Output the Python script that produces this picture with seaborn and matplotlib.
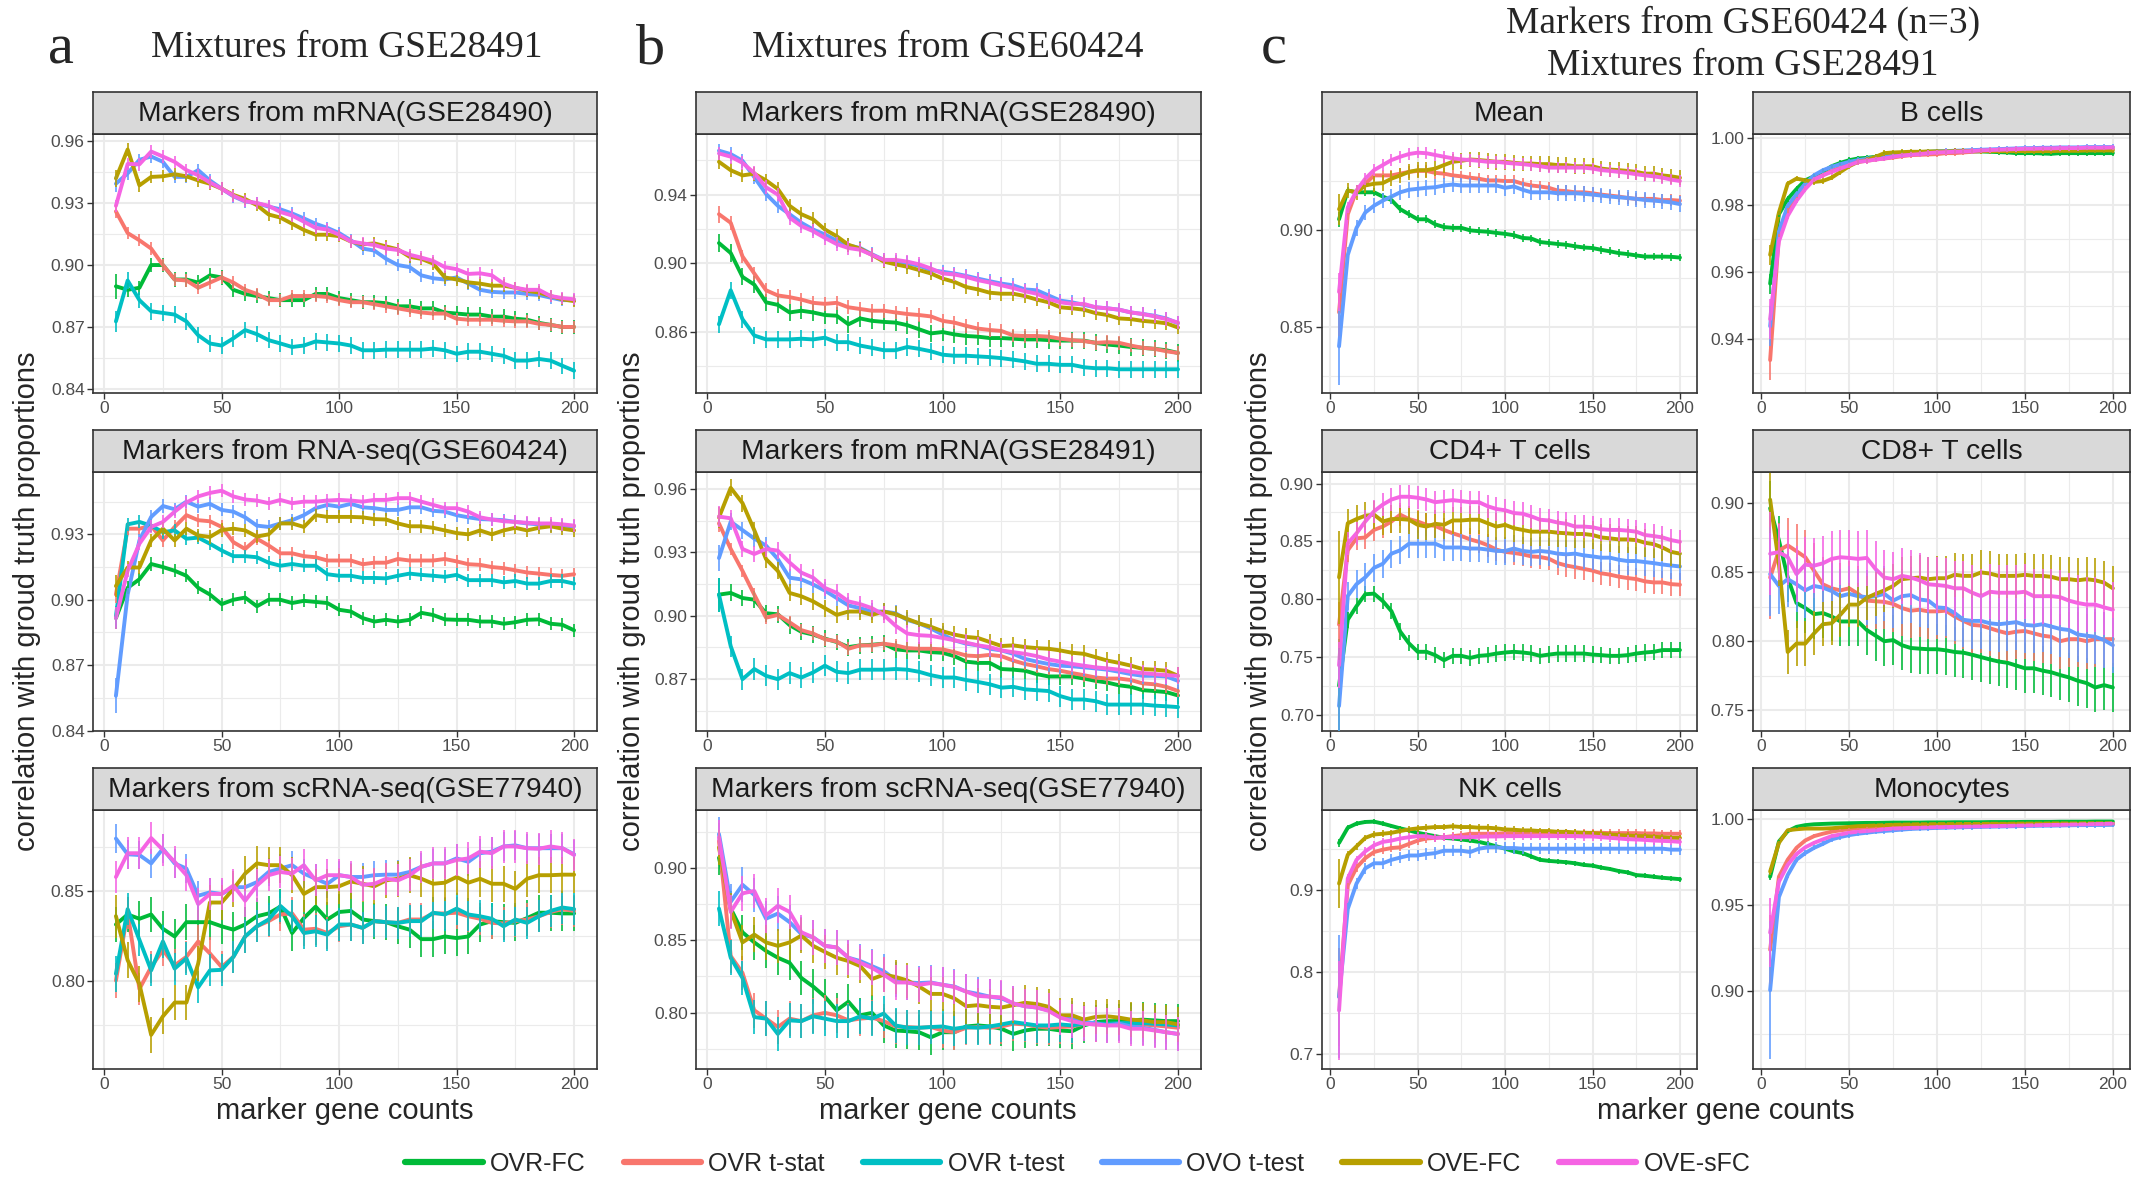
import numpy as np
import pandas as pd
import matplotlib
matplotlib.use("Agg")
import matplotlib.pyplot as plt
from matplotlib.lines import Line2D
import seaborn as sns

sns.set_theme(style="white")
plt.rcParams["font.family"] = ["Liberation Sans", "DejaVu Sans"]

# ---------------- data ----------------
MARKERS = list(range(5, 205, 5))
METHODS = ["OVR-FC", "OVR t-stat", "OVR t-test", "OVO t-test", "OVE-FC", "OVE-sFC"]
COLORS = ["#00BA38", "#F8766D", "#00BFC4", "#619CFF", "#B79F00", "#F564E3"]

# a: Mixtures from GSE28491 / Markers from mRNA(GSE28490)
a1_ovr_fc = [.8897,.888,.889,.9,.9,.893,.893,.8915,.895,.894,.888,.886,.885,.884,.883,.883,.883,.886,.886,.884,.883,.882,.882,.8815,.880,.880,.879,.879,.877,.8765,.876,.876,.875,.875,.874,.8735,.872,.871,.870,.870]
a1_ovr_tstat = [.926,.9155,.912,.908,.9,.893,.8925,.889,.8915,.894,.8915,.888,.886,.883,.883,.885,.885,.885,.8845,.883,.882,.882,.881,.880,.879,.878,.877,.8765,.8765,.874,.8735,.8735,.8735,.873,.8727,.8727,.8715,.871,.870,.870]
a1_ovr_ttest = [.8727,.8925,.883,.8776,.8768,.876,.8727,.866,.862,.861,.8645,.8685,.8665,.8636,.862,.8603,.861,.863,.8625,.862,.861,.8587,.8587,.859,.859,.859,.859,.8595,.8587,.857,.858,.858,.857,.856,.8537,.8537,.8545,.8537,.8512,.8488]
a1_ovo_ttest = [.9394,.9444,.951,.9526,.950,.9427,.9427,.946,.941,.937,.9333,.9308,.930,.9283,.927,.925,.9226,.920,.918,.9155,.912,.908,.907,.903,.900,.899,.895,.8936,.893,.894,.891,.888,.887,.8867,.8867,.886,.8855,.8842,.883,.883]
a1_ove_fc = [.942,.956,.9386,.9427,.943,.944,.943,.941,.9394,.937,.934,.932,.929,.9245,.923,.920,.917,.9147,.9147,.914,.9114,.910,.9105,.909,.9076,.904,.903,.9007,.894,.893,.8916,.891,.890,.890,.889,.8875,.8867,.885,.8834,.8825]
a1_ove_sfc = [.9287,.949,.9488,.955,.9526,.950,.946,.9435,.940,.937,.9336,.931,.930,.9287,.9257,.924,.921,.918,.9172,.9147,.9114,.9105,.9097,.908,.9073,.905,.9036,.902,.899,.898,.8957,.896,.895,.891,.889,.888,.888,.885,.884,.8834]
a1_err = [(.006,.0035),(.003,.003),(.005,.004),(.004,.003),(.004,.003),(.003,.003)]

# a: Markers from RNA-seq(GSE60424)
a2_ovr_fc = [.8916,.9055,.9094,.9164,.915,.9133,.911,.9055,.9024,.898,.900,.901,.897,.900,.900,.8985,.8995,.899,.8985,.8954,.8946,.8916,.890,.8908,.890,.8908,.894,.893,.891,.8908,.8908,.890,.890,.889,.8897,.8908,.891,.889,.8885,.886]
a2_ovr_tstat = [.9024,.9326,.9326,.934,.9272,.9334,.9388,.9365,.936,.9334,.9264,.9233,.928,.9249,.9213,.9213,.920,.9195,.918,.918,.918,.9163,.917,.917,.9187,.918,.918,.918,.9187,.9176,.9163,.916,.915,.9145,.9135,.9125,.912,.9114,.911,.9117]
a2_ovr_ttest = [.8923,.9346,.9357,.934,.931,.9318,.928,.9285,.9257,.9226,.920,.920,.9195,.917,.9156,.9164,.9156,.9156,.9117,.911,.911,.910,.910,.9098,.911,.912,.9114,.911,.9105,.9114,.909,.909,.909,.908,.9086,.9074,.9074,.9086,.9086,.9074]
a2_ovo_ttest = [.8559,.9024,.9272,.938,.943,.9415,.945,.9427,.944,.9412,.9404,.9378,.934,.9334,.935,.9365,.9388,.942,.9435,.9427,.944,.9424,.942,.9412,.9412,.9424,.9424,.9408,.9404,.9388,.9378,.937,.9368,.9365,.9357,.935,.9346,.934,.934,.9337]
a2_ove_fc = [.9063,.9148,.9148,.9272,.9326,.9272,.9326,.9295,.9288,.932,.9326,.9318,.929,.930,.935,.935,.9334,.9388,.938,.938,.938,.9378,.937,.9368,.935,.9337,.9337,.933,.9318,.9306,.930,.9318,.930,.9318,.933,.9318,.933,.9337,.9326,.9318]
a2_ove_sfc = [.8916,.9133,.9257,.9334,.9357,.9404,.9446,.9474,.949,.950,.9474,.946,.9455,.9443,.9458,.9443,.945,.945,.9455,.9458,.9455,.945,.9458,.9458,.9466,.9466,.945,.9435,.942,.942,.9404,.9378,.9368,.936,.9357,.9353,.935,.935,.9346,.934]
a2_err = [(.005,.003),(.004,.003),(.005,.003),(.008,.003),(.005,.003),(.005,.003)]

# a: Markers from scRNA-seq(GSE77940)
a3_ovr_fc = [.8314,.837,.8346,.837,.829,.8247,.8327,.8327,.8327,.8304,.8285,.8314,.836,.8376,.8414,.8266,.835,.8414,.8342,.8384,.839,.8342,.8333,.8327,.8304,.8285,.8232,.8232,.8247,.8238,.8247,.8314,.8333,.8327,.8323,.835,.838,.838,.8376,.8376]
a3_ovr_tstat = [.80,.838,.7953,.8076,.8171,.8085,.8133,.8219,.8152,.8076,.8133,.8247,.8304,.8333,.837,.8376,.8285,.829,.8266,.8304,.8314,.8295,.8333,.8327,.8323,.8342,.8342,.8376,.8376,.838,.836,.8346,.8323,.832,.8333,.8342,.836,.8384,.840,.839]
a3_ovr_ttest = [.8038,.840,.8228,.8057,.8219,.8067,.8124,.7962,.8057,.806,.8133,.8247,.8304,.8342,.8418,.836,.8266,.8276,.8257,.8314,.8314,.8295,.8333,.8327,.8323,.8333,.8333,.838,.837,.8403,.837,.836,.8346,.8304,.8342,.8323,.836,.839,.8409,.840]
a3_ovo_ttest = [.8795,.8707,.8703,.8656,.8738,.8656,.8627,.8475,.8494,.8485,.8523,.8523,.8551,.8608,.8627,.8646,.8599,.857,.8542,.859,.858,.858,.859,.8593,.8593,.8608,.8637,.8656,.8656,.8684,.8665,.8713,.8722,.8751,.8757,.8741,.8741,.8741,.8741,.8707]
a3_ove_fc = [.8361,.8114,.7981,.7696,.780,.7877,.7877,.8095,.8437,.8437,.8513,.8599,.8656,.8646,.8646,.859,.8485,.8523,.8523,.8528,.8555,.8542,.8528,.8561,.857,.859,.857,.8542,.8548,.858,.8548,.857,.8542,.8542,.8513,.857,.859,.859,.8593,.8593]
a3_ove_sfc = [.858,.8713,.8713,.8798,.8732,.8665,.859,.8428,.8485,.8485,.8532,.8447,.8532,.859,.8608,.8599,.8646,.8561,.859,.859,.858,.8536,.8542,.857,.8561,.859,.8637,.8656,.8656,.8675,.8684,.8722,.8713,.8751,.8751,.8741,.8738,.8751,.8741,.8703]
a3_err = [(.01,.01),(.01,.009),(.01,.009),(.008,.008),(.012,.01),(.009,.009)]

# b: Mixtures from GSE60424 / Markers from mRNA(GSE28490)
b1_ovr_fc = [.9118,.906,.8921,.8876,.8773,.8758,.8714,.8724,.8714,.8699,.8695,.8645,.8679,.8665,.8659,.8655,.864,.8616,.8592,.86,.8586,.8577,.8573,.8565,.8565,.8561,.8557,.8557,.8553,.855,.855,.855,.8537,.8527,.8521,.8513,.8508,.8502,.8494,.8478]
b1_ovr_tstat = [.9286,.9236,.904,.8941,.8843,.8813,.8803,.8789,.877,.8764,.877,.8744,.8734,.8724,.8724,.8714,.8705,.8699,.8691,.8665,.8655,.8636,.862,.8612,.8606,.858,.8577,.8577,.8573,.8561,.8553,.8547,.8537,.8541,.8537,.8521,.8508,.8502,.8488,.8478]
b1_ovr_ttest = [.8645,.8843,.8675,.858,.8557,.8557,.8557,.8561,.8557,.8567,.8541,.8541,.8521,.8508,.8494,.8494,.8513,.8502,.8488,.8468,.8462,.8462,.8458,.8454,.8448,.8439,.8429,.8415,.8415,.8409,.8409,.8395,.8389,.8389,.8383,.8383,.8383,.8383,.8383,.8383]
b1_ovo_ttest = [.9656,.9636,.9597,.9502,.9404,.9335,.9286,.9236,.9197,.9168,.9132,.9105,.9089,.9053,.902,.901,.900,.8986,.8961,.8951,.8941,.8927,.8911,.8896,.8882,.8872,.8848,.8843,.8813,.8783,.8773,.8758,.8744,.8738,.873,.8714,.8705,.8695,.8679,.8651]
b1_ove_fc = [.9591,.9542,.9512,.9522,.9483,.9433,.9335,.9286,.9256,.9197,.9158,.9108,.9085,.9049,.901,.8994,.898,.8961,.8941,.8911,.8892,.8862,.8848,.8829,.8823,.8823,.8809,.8789,.8773,.8744,.8738,.873,.871,.8699,.8679,.8675,.8665,.8659,.8651,.8626]
b1_ove_sfc = [.964,.9621,.9585,.9526,.9443,.94,.9266,.9217,.9187,.9148,.9112,.9089,.9079,.9049,.902,.902,.901,.8994,.897,.8941,.8935,.8921,.8902,.8888,.8872,.8856,.8837,.8823,.8793,.8773,.8764,.8764,.8744,.8738,.873,.8714,.8705,.8691,.8675,.8655]
b1_err = [(.005,.005),(.005,.004),(.005,.005),(.004,.004),(.004,.004),(.004,.004)]

# b: Markers from mRNA(GSE28491)
b2_ovr_fc = [.91,.9108,.9084,.9076,.9012,.9007,.8956,.8924,.8911,.8892,.8876,.8852,.886,.8863,.8868,.8841,.8836,.8836,.8828,.8825,.8809,.8783,.8777,.8777,.8748,.8745,.874,.8724,.8713,.8713,.8713,.8703,.8692,.8684,.8671,.8664,.8648,.8644,.8639,.8623]
b2_ovr_tstat = [.9437,.9316,.9212,.91,.8991,.9004,.8969,.8932,.8916,.8889,.8879,.8844,.886,.886,.8868,.886,.8847,.8844,.8844,.8841,.8828,.8812,.8809,.8815,.8809,.8788,.8772,.8761,.8748,.874,.8729,.8719,.8708,.8703,.8703,.8696,.868,.8676,.8664,.8644]
b2_ovr_ttest = [.91,.8856,.87,.8748,.8716,.87,.8729,.8708,.8732,.8764,.8735,.8729,.8745,.8745,.8745,.8748,.8745,.8735,.8719,.8708,.8708,.8696,.8687,.8676,.866,.8664,.8652,.8648,.8644,.862,.8604,.8604,.8596,.858,.858,.858,.858,.8575,.8572,.8568]
b2_ovo_ttest = [.9273,.9445,.9405,.9365,.9332,.9268,.918,.9172,.9148,.9119,.9084,.9049,.9036,.902,.902,.9012,.898,.8964,.894,.8911,.8884,.8868,.886,.8844,.8836,.882,.8796,.8783,.8772,.8764,.8761,.8756,.8751,.8745,.8735,.8724,.8716,.8716,.8713,.8692]
b2_ove_fc = [.9465,.9605,.9533,.9405,.9268,.9212,.9108,.9092,.9068,.9036,.9004,.902,.902,.9004,.902,.9007,.8985,.8964,.8948,.8927,.8911,.89,.8895,.8876,.8857,.886,.8852,.8847,.8844,.8836,.8825,.882,.8804,.8788,.8777,.8764,.8748,.8745,.874,.8716]
b2_ove_sfc = [.9469,.9461,.9316,.9292,.9316,.9308,.9252,.9204,.918,.9132,.9108,.9068,.9055,.9036,.9004,.8953,.8916,.8908,.8905,.8895,.8884,.8873,.886,.8852,.8836,.8828,.882,.8809,.8793,.8783,.8772,.8764,.8756,.8751,.8745,.8735,.8729,.8724,.8719,.8716]
b2_err = [(.008,.004),(.004,.003),(.008,.005),(.006,.004),(.005,.004),(.005,.004)]

# b: Markers from scRNA-seq(GSE77940)
b3_ovr_fc = [.907,.8719,.8555,.8485,.8426,.8379,.8344,.8239,.818,.811,.8016,.8075,.7981,.7998,.7911,.7876,.7871,.7864,.7829,.7864,.7864,.7904,.7911,.7904,.7888,.7852,.7876,.7888,.7888,.7876,.7871,.7911,.7934,.7941,.7941,.7946,.7951,.7946,.7941,.7941]
b3_ovr_tstat = [.9187,.8391,.8274,.8016,.7958,.79,.7958,.7941,.7981,.7998,.7981,.7946,.7958,.7965,.7941,.7904,.79,.7895,.79,.7876,.7864,.7895,.79,.7895,.7904,.7923,.7918,.7904,.7895,.79,.7904,.7923,.7918,.7918,.7923,.7923,.7918,.7911,.7904,.7895]
b3_ovr_ttest = [.8719,.8379,.8239,.7969,.7958,.7852,.7946,.7941,.7974,.7958,.7941,.7941,.7974,.7958,.7993,.7911,.7895,.7895,.79,.7904,.7888,.79,.7895,.7904,.7918,.7934,.7923,.7911,.7911,.7918,.7911,.7923,.7923,.7923,.7927,.7927,.7927,.7923,.7918,.7911]
b3_ovo_ttest = [.9234,.8766,.8883,.8813,.8649,.8684,.8625,.8543,.852,.8461,.845,.8379,.8356,.8321,.8286,.8227,.8208,.8204,.8208,.8192,.818,.8145,.8129,.811,.8098,.8063,.8044,.8035,.8016,.7969,.7958,.7934,.7927,.7911,.7923,.7904,.7895,.7881,.7864,.7852]
b3_ove_fc = [.9141,.8707,.8485,.8539,.8485,.8461,.8485,.8532,.8461,.8419,.8379,.8356,.8321,.8232,.8262,.8246,.8222,.818,.8129,.8129,.8098,.8044,.8051,.804,.8035,.8051,.8068,.8059,.804,.7981,.7981,.7951,.797,.7974,.7965,.7951,.7946,.7934,.7934,.7918]
b3_ove_sfc = [.9211,.8696,.8824,.8841,.8672,.8738,.8696,.8555,.852,.8461,.845,.8379,.8344,.8309,.8262,.8208,.8208,.8192,.8204,.8192,.8176,.8145,.8115,.811,.8105,.8063,.8044,.8035,.8012,.7965,.7941,.7923,.7918,.7911,.7911,.7888,.7888,.7876,.7864,.7852]
b3_err = [(.012,.012),(.012,.012),(.012,.012),(.012,.012),(.012,.012),(.012,.012)]

# c: Markers from GSE60424 (n=3), Mixtures from GSE28491 (OVR t-test not visible)
c_mean_ovr_fc = [.9054,.9202,.9193,.9193,.9193,.9171,.9153,.9106,.908,.9054,.9054,.9028,.9014,.901,.901,.8997,.8993,.899,.8984,.8979,.8972,.8958,.8955,.8937,.8932,.8927,.8923,.8915,.8909,.8906,.8897,.8889,.888,.8875,.8868,.8862,.8862,.8862,.8861,.8857]
c_mean_ovr_tstat = [.8575,.908,.9202,.9237,.928,.928,.928,.9289,.9298,.9303,.9303,.9293,.9289,.928,.9275,.9268,.9263,.9254,.9254,.9251,.9251,.9237,.9228,.9223,.9216,.9202,.9199,.9193,.9193,.9188,.9181,.9176,.9171,.9164,.9159,.9159,.9159,.9153,.9153,.915]
c_mean_ovo_ttest = [.84,.8871,.901,.9089,.9124,.915,.9171,.9193,.9206,.9211,.9216,.9219,.9228,.9233,.9228,.9228,.9228,.9228,.9228,.9216,.9223,.9206,.9193,.9193,.9193,.9188,.9188,.9188,.9185,.9181,.9176,.9171,.9167,.9164,.9159,.9153,.915,.9146,.9141,.9132]
c_mean_ove_fc = [.9106,.9202,.9193,.9228,.9237,.924,.9263,.928,.9298,.9307,.9307,.9315,.9333,.935,.9355,.9362,.9359,.9355,.935,.935,.9345,.9341,.9341,.9338,.9338,.9333,.9333,.9327,.9327,.9327,.9315,.931,.9307,.9303,.9298,.9289,.9289,.928,.9275,.9268]
c_mean_ove_sfc = [.868,.9115,.9202,.9263,.9307,.9333,.9359,.9376,.939,.9397,.9394,.9385,.9376,.9368,.9362,.9359,.9355,.935,.935,.9345,.9341,.9338,.9333,.9327,.932,.932,.932,.932,.932,.9315,.9307,.9303,.9298,.9293,.9286,.928,.9275,.9268,.9258,.9251]
c_mean_err = [(.004,.002),(.012,.003),None,(.02,.004),(.008,.004),(.01,.003)]

c_cd4_ovr_fc = [.7252,.7823,.794,.8043,.8048,.7984,.7896,.772,.7618,.7545,.7545,.7516,.7472,.751,.751,.7492,.751,.7516,.753,.7539,.7545,.7539,.753,.751,.7521,.753,.753,.753,.753,.7521,.7516,.751,.751,.7516,.753,.7539,.7545,.756,.756,.756]
c_cd4_ovr_tstat = [.778,.8423,.8526,.8534,.8599,.8628,.8672,.8731,.8693,.8672,.8643,.8634,.8599,.857,.8546,.8517,.8496,.8467,.8429,.8409,.84,.8388,.837,.8365,.835,.8312,.8291,.8277,.8262,.8247,.8224,.8212,.8195,.8183,.8174,.8154,.8145,.8145,.813,.8125]
c_cd4_ovo_ttest = [.7076,.8028,.813,.8189,.8271,.8306,.8394,.8423,.848,.848,.848,.848,.8447,.8447,.8447,.8438,.8438,.8429,.8417,.8417,.8438,.8417,.8409,.8417,.8409,.8394,.8388,.8394,.8379,.837,.8359,.8359,.8341,.833,.833,.8321,.8312,.83,.8291,.8283]
c_cd4_ove_fc = [.8189,.8657,.8693,.8722,.8731,.8672,.8693,.8693,.8687,.8643,.8628,.8652,.8643,.8681,.8681,.8687,.8687,.8657,.8628,.8643,.8614,.8599,.8584,.8584,.8584,.8575,.857,.8564,.8564,.8555,.8534,.8526,.8517,.8517,.8511,.8488,.8476,.8447,.8409,.8394]
c_cd4_ove_sfc = [.7428,.8482,.857,.8672,.876,.8818,.8862,.8886,.8886,.8877,.8862,.8839,.8848,.8857,.8848,.8839,.8839,.8804,.878,.8769,.8745,.8739,.8716,.8687,.8681,.8663,.8652,.8628,.8628,.8622,.8605,.8599,.8599,.8593,.8584,.8555,.8546,.8534,.8511,.8496]
c_cd4_err = [(.04,.007),(.02,.01),None,(.04,.012),(.04,.012),(.02,.01)]

c_nk_ovr_fc = [.9578,.9764,.9814,.9834,.9838,.9814,.9785,.9756,.9731,.9702,.9681,.9661,.964,.9632,.962,.9607,.9591,.9566,.9537,.9508,.9475,.9454,.9413,.9372,.9359,.9351,.9343,.933,.931,.9301,.9277,.926,.9235,.9219,.9186,.9178,.9165,.9153,.9145,.9136]
c_nk_ovr_tstat = [.77,.9062,.9277,.9392,.9467,.9496,.9516,.9525,.9566,.9607,.9632,.964,.9648,.9661,.9673,.969,.969,.969,.969,.9698,.9698,.9702,.9702,.9702,.9702,.9702,.9702,.9702,.9702,.9702,.9702,.9698,.9698,.9698,.9698,.9694,.9694,.969,.969,.969]
c_nk_ovo_ttest = [.77,.8773,.9083,.9268,.933,.933,.9372,.94,.9425,.9425,.9442,.9454,.9483,.9483,.9483,.9467,.9508,.9525,.9525,.9516,.9516,.9508,.9508,.9508,.9508,.9508,.9508,.9508,.9508,.9508,.9508,.9508,.9508,.9508,.9508,.9508,.9508,.9508,.9496,.9496]
c_nk_ove_fc = [.9083,.9434,.9537,.964,.9681,.969,.9702,.9723,.9743,.9756,.9764,.9772,.9772,.9781,.9772,.9772,.9764,.9764,.9756,.9743,.9739,.9731,.9731,.9723,.9723,.9714,.9714,.9706,.9702,.9698,.969,.9681,.9673,.9669,.9661,.9661,.9653,.9648,.964,.964]
c_nk_ove_sfc = [.7534,.9145,.9372,.9475,.9549,.9591,.9607,.9632,.9648,.9661,.9661,.964,.9648,.9648,.9648,.9648,.9653,.9657,.9657,.9661,.9661,.9661,.9661,.9661,.9661,.9661,.9661,.9661,.9657,.9657,.9648,.964,.9632,.9624,.962,.9615,.9607,.9603,.9599,.9591]
c_nk_err = [(.005,.003),(.06,.005),None,(.075,.007),(.03,.004),(.06,.005)]

c_b_ovr_fc = [.9566,.9773,.9818,.9848,.9874,.9886,.9899,.9916,.9926,.9934,.9939,.9941,.9944,.9949,.9952,.9955,.9957,.9958,.9959,.996,.996,.996,.996,.996,.996,.9959,.9958,.9957,.9955,.9955,.9955,.9954,.9953,.9955,.9955,.9955,.9955,.9955,.9955,.9955]
c_b_ovr_tstat = [.9338,.9712,.9783,.9823,.9854,.9876,.9889,.9902,.9912,.9922,.9929,.9932,.9936,.9939,.9942,.9946,.9949,.995,.9951,.9952,.9955,.9955,.9957,.9959,.9961,.9962,.9963,.9964,.9965,.9965,.9966,.9966,.9967,.9967,.9967,.9968,.9968,.9968,.9968,.9968]
c_b_ovo_ttest = [.9439,.9722,.9798,.9833,.9864,.9889,.9904,.9914,.9922,.9929,.9934,.9938,.9942,.9945,.9948,.9951,.9954,.9956,.9958,.996,.9961,.9962,.9963,.9964,.9965,.9966,.9967,.9968,.9969,.997,.997,.9971,.9971,.9972,.9972,.9972,.9973,.9973,.9973,.9973]
c_b_ove_fc = [.9652,.9778,.9864,.9879,.9874,.9869,.9872,.9882,.9899,.9916,.9929,.9934,.9944,.9955,.9957,.9958,.9959,.9959,.996,.996,.996,.9961,.9961,.9961,.9961,.9961,.9961,.9961,.9961,.9961,.9961,.9961,.9961,.9962,.9962,.9962,.9963,.9963,.9963,.9963]
c_b_ove_sfc = [.946,.9692,.9768,.9813,.9848,.9876,.9889,.9899,.9909,.9919,.9929,.9932,.9936,.9939,.9944,.9948,.995,.9952,.9955,.9957,.9958,.9959,.996,.9961,.9963,.9964,.9965,.9966,.9967,.9968,.9968,.9969,.9969,.997,.997,.997,.9971,.9971,.9971,.9972]
c_b_err = [(.003,.0008),(.006,.0008),None,(.006,.0008),(.003,.0008),(.006,.0008)]

c_cd8_ovr_fc = [.8963,.873,.8461,.8277,.824,.8196,.8204,.8179,.8143,.8143,.8143,.8081,.804,.80,.8008,.7971,.7951,.7946,.7942,.7942,.7934,.7922,.7917,.7902,.7885,.7868,.7853,.7844,.7824,.7804,.7804,.7787,.7775,.7755,.7738,.7714,.7697,.7665,.7682,.7665]
c_cd8_ovr_tstat = [.8461,.8657,.8694,.8652,.8608,.851,.8412,.8383,.8368,.8383,.8343,.8294,.8289,.8285,.827,.824,.8221,.8228,.8216,.8216,.8221,.8179,.8147,.8118,.8113,.8094,.8074,.8057,.8069,.8074,.8057,.804,.8032,.80,.8015,.8015,.80,.8015,.8015,.8015]
c_cd8_ovo_ttest = [.8486,.84,.8449,.8412,.8368,.84,.8388,.8363,.8326,.8343,.8326,.8319,.8326,.8343,.8294,.8326,.8334,.8302,.8294,.8245,.824,.8204,.8155,.8147,.8147,.813,.8123,.813,.8138,.8118,.8113,.8123,.8106,.8089,.8081,.8049,.804,.8032,.8008,.7971]
c_cd8_ove_fc = [.9025,.8559,.7922,.7983,.7983,.8057,.8123,.813,.8192,.8265,.8265,.8314,.8343,.8368,.84,.8449,.8456,.8461,.8449,.8456,.8456,.8481,.8473,.8473,.8498,.849,.8473,.8473,.8473,.8481,.8473,.8473,.8466,.8449,.8449,.8441,.8449,.8441,.8424,.8383]
c_cd8_ove_sfc = [.8633,.8645,.8608,.8486,.8554,.8547,.8564,.8596,.8608,.8603,.8596,.8603,.8522,.8461,.8449,.8473,.8461,.8441,.8412,.8407,.84,.8383,.8383,.8351,.8326,.8358,.8351,.8351,.8351,.8358,.8326,.8326,.8326,.8319,.8294,.8277,.8265,.8265,.8245,.8228]
c_cd8_err = [(.02,.018),(.03,.02),None,(.03,.02),(.02,.016),(.03,.02)]

c_mono_ovr_fc = [.9665,.987,.993,.9955,.9965,.997,.9972,.9974,.9975,.9976,.9977,.9978,.9978,.9979,.998,.998,.998,.998,.9981,.9981,.9981,.9982,.9982,.9982,.9982,.9983,.9983,.9983,.9983,.9984,.9984,.9984,.9984,.9985,.9985,.9985,.9985,.9986,.9986,.9986]
c_mono_ovr_tstat = [.924,.9665,.9764,.9833,.9876,.9901,.9915,.9927,.9935,.9941,.9947,.9951,.9953,.9955,.9957,.9959,.996,.9961,.9962,.9963,.9963,.9964,.9964,.9965,.9965,.9966,.9966,.9967,.9967,.9967,.9968,.9968,.9968,.9969,.9969,.9969,.997,.997,.997,.997]
c_mono_ovo_ttest = [.9005,.9547,.9675,.9764,.9803,.9833,.9856,.9882,.9896,.9907,.9915,.9921,.9927,.9931,.9935,.9939,.9943,.9945,.9947,.9949,.995,.9952,.9953,.9954,.9955,.9956,.9957,.9958,.9959,.996,.9961,.9962,.9962,.9963,.9964,.9965,.9965,.9966,.9966,.9967]
c_mono_ove_fc = [.9695,.9862,.9935,.9941,.9945,.9945,.9945,.9947,.9951,.9955,.9959,.9961,.9963,.9965,.9967,.9968,.9969,.997,.997,.9971,.9971,.9971,.9972,.9972,.9972,.9973,.9973,.9973,.9974,.9974,.9974,.9974,.9975,.9975,.9975,.9975,.9976,.9976,.9976,.9976]
c_mono_ove_sfc = [.934,.9636,.9734,.9797,.9836,.9862,.9882,.9901,.9911,.9921,.9927,.9931,.9935,.9941,.9945,.9947,.9949,.995,.9952,.9953,.9954,.9955,.9956,.9957,.9958,.9959,.996,.9961,.9962,.9963,.9964,.9965,.9966,.9967,.9968,.9969,.997,.9971,.9972,.9974]
c_mono_err = [(.002,.0008),(.02,.001),None,(.04,.0015),(.002,.0008),(.02,.001)]

# ---------------- layout ----------------
W, H = 2141, 1178
COLS = [(93, 597), (696, 1201), (1322, 1697), (1753, 2130)]
ROWS = [(92, 134, 393), (430, 472, 731), (768, 810, 1069)]

PANELS = [
    dict(strip="Markers from mRNA(GSE28490)", col=0, row=0,
         series=[a1_ovr_fc, a1_ovr_tstat, a1_ovr_ttest, a1_ovo_ttest, a1_ove_fc, a1_ove_sfc], err=a1_err,
         ylim=(0.838, 0.9635), yticks=[0.84, 0.87, 0.90, 0.93, 0.96], fmt="{:.2f}"),
    dict(strip="Markers from RNA-seq(GSE60424)", col=0, row=1,
         series=[a2_ovr_fc, a2_ovr_tstat, a2_ovr_ttest, a2_ovo_ttest, a2_ove_fc, a2_ove_sfc], err=a2_err,
         ylim=(0.8398, 0.9586), yticks=[0.84, 0.87, 0.90, 0.93], fmt="{:.2f}"),
    dict(strip="Markers from scRNA-seq(GSE77940)", col=0, row=2,
         series=[a3_ovr_fc, a3_ovr_tstat, a3_ovr_ttest, a3_ovo_ttest, a3_ove_fc, a3_ove_sfc], err=a3_err,
         ylim=(0.7505, 0.8955), yticks=[0.80, 0.85], fmt="{:.2f}"),
    dict(strip="Markers from mRNA(GSE28490)", col=1, row=0,
         series=[b1_ovr_fc, b1_ovr_tstat, b1_ovr_ttest, b1_ovo_ttest, b1_ove_fc, b1_ove_sfc], err=b1_err,
         ylim=(0.8245, 0.9753), yticks=[0.86, 0.90, 0.94], fmt="{:.2f}"),
    dict(strip="Markers from mRNA(GSE28491)", col=1, row=1,
         series=[b2_ovr_fc, b2_ovr_tstat, b2_ovr_ttest, b2_ovo_ttest, b2_ove_fc, b2_ove_sfc], err=b2_err,
         ylim=(0.8455, 0.968), yticks=[0.87, 0.90, 0.93, 0.96], fmt="{:.2f}"),
    dict(strip="Markers from scRNA-seq(GSE77940)", col=1, row=2,
         series=[b3_ovr_fc, b3_ovr_tstat, b3_ovr_ttest, b3_ovo_ttest, b3_ove_fc, b3_ove_sfc], err=b3_err,
         ylim=(0.761, 0.940), yticks=[0.80, 0.85, 0.90], fmt="{:.2f}"),
    dict(strip="Mean", col=2, row=0,
         series=[c_mean_ovr_fc, c_mean_ovr_tstat, None, c_mean_ovo_ttest, c_mean_ove_fc, c_mean_ove_sfc], err=c_mean_err,
         ylim=(0.816, 0.9493), yticks=[0.85, 0.90], fmt="{:.2f}"),
    dict(strip="CD4+ T cells", col=2, row=1,
         series=[c_cd4_ovr_fc, c_cd4_ovr_tstat, None, c_cd4_ovo_ttest, c_cd4_ove_fc, c_cd4_ove_sfc], err=c_cd4_err,
         ylim=(0.686, 0.910), yticks=[0.70, 0.75, 0.80, 0.85, 0.90], fmt="{:.2f}"),
    dict(strip="NK cells", col=2, row=2,
         series=[c_nk_ovr_fc, c_nk_ovr_tstat, None, c_nk_ovo_ttest, c_nk_ove_fc, c_nk_ove_sfc], err=c_nk_err,
         ylim=(0.682, 0.998), yticks=[0.7, 0.8, 0.9], fmt="{:.1f}"),
    dict(strip="B cells", col=3, row=0,
         series=[c_b_ovr_fc, c_b_ovr_tstat, None, c_b_ovo_ttest, c_b_ove_fc, c_b_ove_sfc], err=c_b_err,
         ylim=(0.924, 1.0012), yticks=[0.94, 0.96, 0.98, 1.00], fmt="{:.2f}"),
    dict(strip="CD8+ T cells", col=3, row=1,
         series=[c_cd8_ovr_fc, c_cd8_ovr_tstat, None, c_cd8_ovo_ttest, c_cd8_ove_fc, c_cd8_ove_sfc], err=c_cd8_err,
         ylim=(0.735, 0.9225), yticks=[0.75, 0.80, 0.85, 0.90], fmt="{:.2f}"),
    dict(strip="Monocytes", col=3, row=2,
         series=[c_mono_ovr_fc, c_mono_ovr_tstat, None, c_mono_ovo_ttest, c_mono_ove_fc, c_mono_ove_sfc], err=c_mono_err,
         ylim=(0.8547, 1.0053), yticks=[0.90, 0.95, 1.00], fmt="{:.2f}"),
]

BORDER = "#333333"
GRID = "#EBEBEB"
TICKC = "#4D4D4D"
PALETTE = dict(zip(METHODS, COLORS))

fig = plt.figure(figsize=(W / 100, H / 100), dpi=100)
fig.patch.set_facecolor("white")

for p in PANELS:
    l, r = COLS[p["col"]]
    st, pt, pb = ROWS[p["row"]]
    ax = fig.add_axes([l / W, 1 - pb / H, (r - l) / W, (pb - pt) / H])
    sax = fig.add_axes([l / W, 1 - pt / H, (r - l) / W, (pt - st) / H])

    rows = []
    for m, vals in zip(METHODS, p["series"]):
        if vals is None:
            continue
        for x, v in zip(MARKERS, vals):
            rows.append((m, x, v))
    df = pd.DataFrame(rows, columns=["method", "markers", "corr"])
    present = [m for m, v in zip(METHODS, p["series"]) if v is not None]
    sns.lineplot(data=df, x="markers", y="corr", hue="method", hue_order=present,
                 palette=PALETTE, estimator=None, errorbar=None, linewidth=2.8,
                 legend=False, ax=ax, zorder=3)
    for i, (m, vals) in enumerate(zip(METHODS, p["series"])):
        if vals is None:
            continue
        e0, e1 = p["err"][i]
        v = np.asarray(vals)
        e = np.full(len(v), e1)
        e[0] = e0
        ax.vlines(MARKERS[:len(v)], v - e, v + e, colors=COLORS[i], linewidth=1.3,
                  alpha=0.9, zorder=4)

    ax.set_xlim(-4.75, 209.75)
    ax.set_ylim(*p["ylim"])
    ax.set_xticks([0, 50, 100, 150, 200])
    ax.set_xticks([25, 75, 125, 175], minor=True)
    yt = p["yticks"]
    step = yt[1] - yt[0]
    minors = [yt[0] - step / 2] + [t + step / 2 for t in yt]
    minors = [m for m in minors if p["ylim"][0] <= m <= p["ylim"][1]]
    ax.set_yticks(yt)
    ax.set_yticks(minors, minor=True)
    ax.set_yticklabels([p["fmt"].format(t) for t in yt])
    ax.set_xlabel("")
    ax.set_ylabel("")
    ax.grid(which="major", color=GRID, linewidth=1.5, zorder=0)
    ax.grid(which="minor", color=GRID, linewidth=0.8, zorder=0)
    ax.set_axisbelow(True)
    ax.tick_params(axis="both", which="major", labelsize=12.5, labelcolor=TICKC,
                   color=BORDER, length=4, width=1.0, pad=2, direction="out",
                   bottom=True, left=True)
    ax.tick_params(axis="both", which="minor", length=0)
    for s in ax.spines.values():
        s.set_color(BORDER)
        s.set_linewidth(1.2)
    ax.set_facecolor("white")

    sax.set_facecolor("#D9D9D9")
    sax.set_xticks([])
    sax.set_yticks([])
    for s in sax.spines.values():
        s.set_color(BORDER)
        s.set_linewidth(1.2)
    sax.text(0.5, 0.47, p["strip"], ha="center", va="center", fontsize=20.3,
             color="#1A1A1A", transform=sax.transAxes)

# ---------------- titles and labels ----------------
serif = ["Liberation Serif", "DejaVu Serif"]
for letter, x in [("a", 61), ("b", 651), ("c", 1274)]:
    fig.text(x / W, 1 - 49 / H, letter, family=serif, fontsize=42, ha="center", va="center")
fig.text(347 / W, 1 - 48 / H, "Mixtures from GSE28491", family=serif, fontsize=27, ha="center", va="center")
fig.text(948 / W, 1 - 48 / H, "Mixtures from GSE60424", family=serif, fontsize=27, ha="center", va="center")
fig.text(1743 / W, 1 - 23 / H, "Markers from GSE60424 (n=3)", family=serif, fontsize=27, ha="center", va="center")
fig.text(1743 / W, 1 - 66 / H, "Mixtures from GSE28491", family=serif, fontsize=27, ha="center", va="center")

ylab = "correlation with groud truth proportions"
for x in [27, 632, 1259]:
    fig.text(x / W, 1 - 601 / H, ylab, rotation=90, fontsize=21, ha="center", va="center")
for x in [345, 948, 1726]:
    fig.text(x / W, 1 - 1111 / H, "marker gene counts", fontsize=21, ha="center", va="center")

handles = [Line2D([0], [0], color=c, linewidth=4.5) for c in COLORS]
fig.legend(handles, METHODS, loc="center", bbox_to_anchor=(1078 / W, 1 - 1164 / H),
           ncol=6, frameon=False, fontsize=18, handlelength=3.1, handletextpad=0.3,
           columnspacing=1.5)

fig.savefig("out.png", dpi=100, facecolor="white")
